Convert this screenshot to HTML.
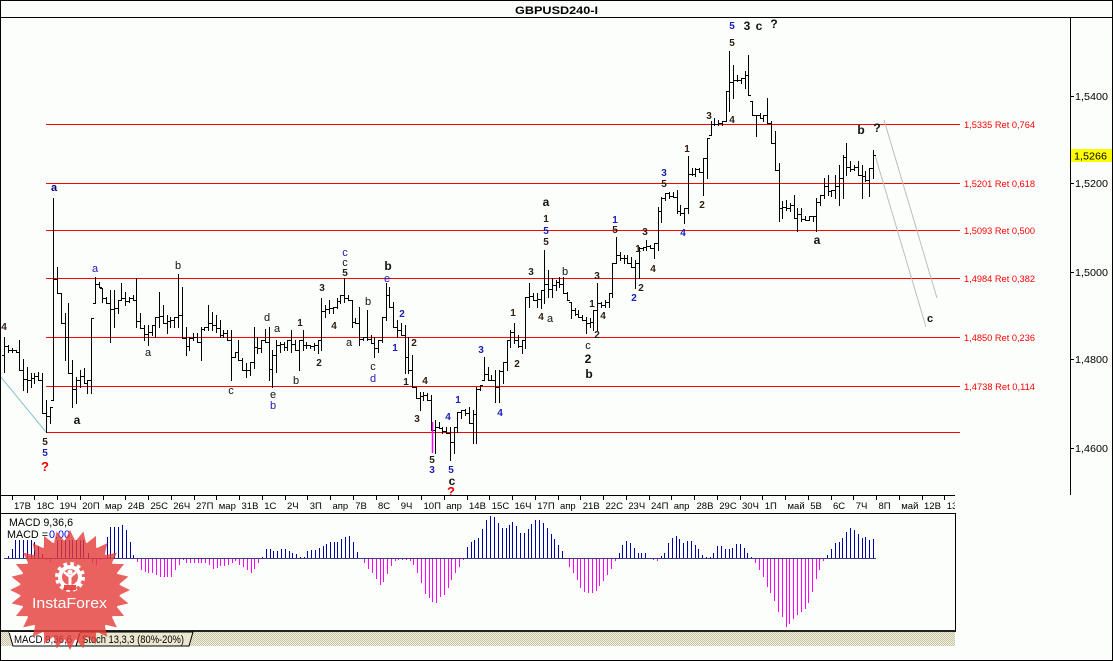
<!DOCTYPE html>
<html><head><meta charset="utf-8"><style>
html,body{margin:0;padding:0;background:#fcfefc;}
svg{display:block;}
text{font-family:"Liberation Sans",Arial,sans-serif;}
</style></head><body>
<svg id="s" width="1113" height="661" viewBox="0 0 1113 661" xmlns="http://www.w3.org/2000/svg">
<defs>
<pattern id="h" width="2" height="2" patternUnits="userSpaceOnUse">
<rect width="2" height="2" fill="#f2f0e2"/><rect width="1" height="1" fill="#c6c2a2"/><rect x="1" y="1" width="1" height="1" fill="#c6c2a2"/>
</pattern>
<clipPath id="cc"><rect x="1" y="18" width="1069" height="477"/></clipPath>
<clipPath id="ct"><rect x="0" y="495" width="955" height="18"/></clipPath>
</defs>
<rect width="1113" height="661" fill="#fcfefc"/>

<!-- title -->
<text x="515" y="14" font-size="11" font-weight="bold" textLength="83" lengthAdjust="spacingAndGlyphs" fill="#000">GBPUSD240-I</text>
<path d="M0 17.5H1113" stroke="#000" stroke-width="1"/>

<!-- fib lines -->
<g stroke="#ff0000" stroke-width="1" shape-rendering="crispEdges">
<path d="M46 124.5H960M46 183.5H960M46 230.5H960M46 278.5H960M46 337.5H960M46 386.5H960M46 432.5H960"/>
</g>
<g font-size="9.5" fill="#ff0000">
<text x="964" y="128" textLength="71" lengthAdjust="spacingAndGlyphs">1,5335 Ret 0,764</text>
<text x="964" y="187" textLength="71" lengthAdjust="spacingAndGlyphs">1,5201 Ret 0,618</text>
<text x="964" y="234" textLength="71" lengthAdjust="spacingAndGlyphs">1,5093 Ret 0,500</text>
<text x="964" y="282" textLength="71" lengthAdjust="spacingAndGlyphs">1,4984 Ret 0,382</text>
<text x="964" y="341" textLength="71" lengthAdjust="spacingAndGlyphs">1,4850 Ret 0,236</text>
<text x="964" y="390" textLength="71" lengthAdjust="spacingAndGlyphs">1,4738 Ret 0,114</text>
</g>

<!-- trend lines -->
<path d="M0 376L46 432" stroke="#88c4c8" stroke-width="1" fill="none"/>
<path d="M884 120L937 298M875 155L926 327" stroke="#bcbcbc" stroke-width="1" fill="none"/>

<!-- bars -->
<g clip-path="url(#cc)">
<path id="bars" d="" stroke="#000" stroke-width="1" fill="none" shape-rendering="crispEdges"/>
</g>
<path d="M432.5 422V453" stroke="#ff00ff" stroke-width="1.5"/>

<!-- wave labels -->
<g text-anchor="middle">
<g font-weight="bold" font-size="10" fill="#2b1d0e">
<text x="4" y="330">4</text>
<text x="45" y="445">5</text>
<text x="300" y="326">1</text>
<text x="319" y="366">2</text>
<text x="322" y="291">3</text>
<text x="334" y="329">4</text>
<text x="345" y="276">5</text>
<text x="414" y="346">2</text>
<text x="406" y="385">1</text>
<text x="417" y="422">3</text>
<text x="425" y="384">4</text>
<text x="432" y="463">5</text>
<text x="513" y="316">1</text>
<text x="517" y="367">2</text>
<text x="531" y="275">3</text>
<text x="541" y="320">4</text>
<text x="546" y="222">1</text>
<text x="546" y="245">5</text>
<text x="592" y="307">1</text>
<text x="597" y="279">3</text>
<text x="597" y="338">2</text>
<text x="603" y="319">4</text>
<text x="615" y="233">5</text>
<text x="641" y="291">2</text>
<text x="638" y="252">1</text>
<text x="645" y="235">3</text>
<text x="653" y="272">4</text>
<text x="664" y="187">5</text>
<text x="687" y="152">1</text>
<text x="702" y="208">2</text>
<text x="709" y="119">3</text>
<text x="732" y="123">4</text>
<text x="732" y="46">5</text>
</g>
<g font-weight="bold" font-size="10" fill="#1c1cb4">
<text x="45" y="456">5</text>
<text x="395" y="351">1</text>
<text x="402" y="317">2</text>
<text x="432" y="473">3</text>
<text x="448" y="420">4</text>
<text x="458" y="403">1</text>
<text x="451" y="473">5</text>
<text x="481" y="353">3</text>
<text x="500" y="416">4</text>
<text x="546" y="234">5</text>
<text x="615" y="223">1</text>
<text x="634" y="301">2</text>
<text x="664" y="176">3</text>
<text x="683" y="236">4</text>
<text x="732" y="29">5</text>
</g>
<g font-size="11" fill="#111">
<text x="148" y="356">a</text>
<text x="178" y="269">b</text>
<text x="231" y="394">c</text>
<text x="267" y="321">d</text>
<text x="277" y="332">a</text>
<text x="273" y="398">e</text>
<text x="296" y="384">b</text>
<text x="345" y="266">c</text>
<text x="349" y="346">a</text>
<text x="368" y="305">b</text>
<text x="373" y="370">c</text>
<text x="550" y="322">a</text>
<text x="565" y="275">b</text>
<text x="588" y="349">c</text>
</g>
<g font-size="11" fill="#1c1cb4">
<text x="95" y="272">a</text>
<text x="273" y="409">b</text>
<text x="345" y="256">c</text>
<text x="373" y="382">d</text>
<text x="387" y="282">e</text>
</g>
<g font-weight="bold" font-size="12" fill="#111">
<text x="77" y="424">a</text>
<text x="388" y="270">b</text>
<text x="452" y="485">c</text>
<text x="546" y="206">a</text>
<text x="588" y="363">2</text>
<text x="589" y="378">b</text>
<text x="747" y="30">3</text>
<text x="759" y="30">c</text>
<text x="774" y="28">?</text>
<text x="817" y="244">a</text>
<text x="861" y="134">b</text>
<text x="877" y="132">?</text>
<text x="930" y="322" font-size="11">c</text>
</g>
<text x="54" y="191" font-weight="bold" font-size="11" fill="#000080">a</text>
<g font-weight="bold" font-size="13" fill="#f00000">
<text x="45" y="471">?</text>
<text x="451" y="496">?</text>
</g>
</g>

<!-- price axis -->
<path d="M1070.5 17V495" stroke="#000" stroke-width="1"/>
<path d="M1070 96.5H1074M1070 183.5H1074M1070 272.5H1074M1070 359.5H1074M1070 448.5H1074" stroke="#000" stroke-width="1" shape-rendering="crispEdges"/>
<g font-size="10.5" fill="#000">
<text x="1075" y="100" textLength="33" lengthAdjust="spacingAndGlyphs">1,5400</text>
<text x="1075" y="187" textLength="33" lengthAdjust="spacingAndGlyphs">1,5200</text>
<text x="1075" y="276" textLength="33" lengthAdjust="spacingAndGlyphs">1,5000</text>
<text x="1075" y="363" textLength="33" lengthAdjust="spacingAndGlyphs">1,4800</text>
<text x="1075" y="452" textLength="33" lengthAdjust="spacingAndGlyphs">1,4600</text>
</g>
<rect x="1071" y="149" width="41" height="13" fill="#ffff00"/>
<text x="1074" y="159.5" font-size="10.5" textLength="33" lengthAdjust="spacingAndGlyphs" fill="#000">1,5266</text>

<!-- time axis -->
<path d="M0 495.5H955" stroke="#000" stroke-width="1"/>
<path d="M12.5 495V500M34.5 495V500M57.5 495V500M80.5 495V500M103.5 495V500M125.5 495V500M148.5 495V500M171.5 495V500M194.5 495V500M216.5 495V500M239.5 495V500M262.5 495V500M285.5 495V500M307.5 495V500M330.5 495V500M353.5 495V500M376.5 495V500M398.5 495V500M421.5 495V500M444.5 495V500M467.5 495V500M489.5 495V500M512.5 495V500M535.5 495V500M558.5 495V500M580.5 495V500M603.5 495V500M626.5 495V500M649.5 495V500M671.5 495V500M694.5 495V500M717.5 495V500M740.5 495V500M762.5 495V500M785.5 495V500M808.5 495V500M831.5 495V500M853.5 495V500M876.5 495V500M899.5 495V500M922.5 495V500M944.5 495V500" stroke="#000" stroke-width="1" shape-rendering="crispEdges"/>
<g font-size="9.5" fill="#000" clip-path="url(#ct)">
<text x="14" y="509">17В</text><text x="36.75" y="509">18С</text><text x="59.5" y="509">19Ч</text><text x="82.25" y="509">20П</text><text x="105" y="509">мар</text>
<text x="127.75" y="509">24В</text><text x="150.5" y="509">25С</text><text x="173.25" y="509">26Ч</text><text x="196" y="509">27П</text><text x="218.75" y="509">мар</text>
<text x="241.5" y="509">31В</text><text x="264.25" y="509">1С</text><text x="287" y="509">2Ч</text><text x="309.75" y="509">3П</text><text x="332.5" y="509">апр</text>
<text x="355.25" y="509">7В</text><text x="378" y="509">8С</text><text x="400.75" y="509">9Ч</text><text x="423.5" y="509">10П</text><text x="446.25" y="509">апр</text>
<text x="469" y="509">14В</text><text x="491.75" y="509">15С</text><text x="514.5" y="509">16Ч</text><text x="537.25" y="509">17П</text><text x="560" y="509">апр</text>
<text x="582.75" y="509">21В</text><text x="605.5" y="509">22С</text><text x="628.25" y="509">23Ч</text><text x="651" y="509">24П</text><text x="673.75" y="509">апр</text>
<text x="696.5" y="509">28В</text><text x="719.25" y="509">29С</text><text x="742" y="509">30Ч</text><text x="764.75" y="509">1П</text><text x="787.5" y="509">май</text>
<text x="810.25" y="509">5В</text><text x="833" y="509">6С</text><text x="855.75" y="509">7Ч</text><text x="878.5" y="509">8П</text><text x="901.25" y="509">май</text>
<text x="924" y="509">12В</text><text x="946.75" y="509">13</text>
</g>

<!-- MACD panel -->
<path d="M0 513.5H955.5V630" stroke="#000" stroke-width="1" fill="none"/>
<rect x="0" y="630" width="956" height="2" fill="#222"/>
<path d="M4 558.5H876" stroke="#3c3c84" stroke-width="1" shape-rendering="crispEdges"/>
<path stroke="#0000a0" stroke-width="1" fill="none" shape-rendering="crispEdges" d="M8.5 558V556M12.5 558V549M15.5 558V540M19.5 558V540M23.5 558V540M27.5 558V540M31.5 558V540M34.5 558V542M38.5 558V546M42.5 558V554M57.5 558V540M61.5 558V540M65.5 558V540M69.5 558V540M72.5 558V540M76.5 558V540M80.5 558V540M83.5 558V540M88.5 558V553M107.5 558V537M110.5 558V527M114.5 558V527M118.5 558V527M122.5 558V525M126.5 558V530M130.5 558V542M133.5 558V555M262.5 558V557M266.5 558V549M270.5 558V549M273.5 558V551M277.5 558V551M281.5 558V549M285.5 558V549M289.5 558V551M292.5 558V553M296.5 558V554M300.5 558V557M304.5 558V557M307.5 558V551M311.5 558V550M315.5 558V550M319.5 558V548M323.5 558V546M326.5 558V544M330.5 558V542M334.5 558V542M337.5 558V542M341.5 558V539M345.5 558V537M349.5 558V536M353.5 558V542M357.5 558V552M467.5 558V547M471.5 558V542M474.5 558V540M478.5 558V538M482.5 558V529M486.5 558V520M490.5 558V516M494.5 558V517M498.5 558V523M502.5 558V528M506.5 558V528M509.5 558V525M512.5 558V522M516.5 558V526M520.5 558V533M524.5 558V533M528.5 558V529M531.5 558V524M535.5 558V520M539.5 558V520M543.5 558V523M547.5 558V528M551.5 558V534M554.5 558V539M558.5 558V545M562.5 558V551M619.5 558V553M622.5 558V545M626.5 558V541M630.5 558V543M634.5 558V548M638.5 558V553M641.5 558V553M645.5 558V553M661.5 558V556M664.5 558V553M668.5 558V543M672.5 558V538M676.5 558V536M679.5 558V539M683.5 558V543M687.5 558V541M691.5 558V541M695.5 558V545M698.5 558V549M702.5 558V555M706.5 558V557M710.5 558V557M713.5 558V553M717.5 558V546M721.5 558V546M725.5 558V549M729.5 558V549M732.5 558V548M736.5 558V544M740.5 558V544M744.5 558V548M747.5 558V553M751.5 558V557M827.5 558V555M831.5 558V549M835.5 558V543M839.5 558V542M842.5 558V538M846.5 558V532M850.5 558V528M854.5 558V530M858.5 558V534M862.5 558V538M865.5 558V537M869.5 558V540M873.5 558V539"/>
<path stroke="#ff00ff" stroke-width="1" fill="none" shape-rendering="crispEdges" d="M46.5 559V560M50.5 559V562M92.5 559V563M96.5 559V565M100.5 559V560M137.5 559V562M141.5 559V570M145.5 559V572M148.5 559V573M152.5 559V573M156.5 559V575M160.5 559V577M164.5 559V577M167.5 559V577M171.5 559V577M175.5 559V570M179.5 559V565M183.5 559V560M186.5 559V563M190.5 559V563M194.5 559V563M198.5 559V563M201.5 559V563M205.5 559V563M209.5 559V565M213.5 559V569M217.5 559V568M220.5 559V566M224.5 559V566M228.5 559V565M232.5 559V563M235.5 559V561M239.5 559V565M243.5 559V567M247.5 559V570M251.5 559V573M254.5 559V569M258.5 559V563M364.5 559V563M368.5 559V569M372.5 559V573M376.5 559V579M380.5 559V585M383.5 559V582M387.5 559V574M391.5 559V566M395.5 559V561M398.5 559V560M402.5 559V560M406.5 559V560M410.5 559V561M413.5 559V565M417.5 559V573M421.5 559V583M425.5 559V594M429.5 559V598M432.5 559V602M436.5 559V603M440.5 559V597M444.5 559V595M448.5 559V588M451.5 559V580M455.5 559V573M459.5 559V567M463.5 559V560M569.5 559V567M573.5 559V573M577.5 559V580M580.5 559V588M584.5 559V592M588.5 559V593M592.5 559V593M596.5 559V591M599.5 559V586M603.5 559V581M607.5 559V575M611.5 559V569M615.5 559V561M653.5 559V560M657.5 559V561M755.5 559V563M759.5 559V570M763.5 559V577M767.5 559V587M770.5 559V593M774.5 559V601M778.5 559V612M782.5 559V617M786.5 559V627M789.5 559V624M793.5 559V619M797.5 559V615M801.5 559V612M805.5 559V609M808.5 559V603M812.5 559V592M816.5 559V579M819.5 559V570M823.5 559V561"/>
<text x="9" y="526" font-size="11" fill="#000" textLength="64" lengthAdjust="spacingAndGlyphs">MACD 9,36,6</text>
<text x="7" y="538" font-size="11" fill="#000" textLength="41" lengthAdjust="spacingAndGlyphs">MACD =</text>
<text x="49" y="538" font-size="11" fill="#0000ff" textLength="21" lengthAdjust="spacingAndGlyphs">0,00</text>

<!-- tab bar -->
<rect x="1" y="632" width="954" height="14" fill="url(#h)"/>
<polygon points="80,632 193,632 189,646 76,646" fill="#ebe8cf" stroke="#000" stroke-width="1"/>
<polygon points="9,632 80,632 76,646 13,646" fill="#ffffff" stroke="#000" stroke-width="1"/>
<path d="M9 632.5H80" stroke="#fff" stroke-width="1"/>
<text x="14" y="643" font-size="11" fill="#000" textLength="58" lengthAdjust="spacingAndGlyphs">MACD 9,36,6</text>
<text x="82" y="643" font-size="11" fill="#000" textLength="102" lengthAdjust="spacingAndGlyphs">Stoch 13,3,3 (80%-20%)</text>

<!-- logo -->
<g opacity="0.8">
<circle cx="70" cy="590" r="50" fill="#e63c38"/>
<polygon id="star" points="" fill="#e63c38"/>
</g>
<g fill="#fff" stroke="#fff">
<circle cx="70" cy="577" r="10" fill="none" stroke-width="4"/>
<circle cx="70" cy="577" r="13" fill="none" stroke-width="4" stroke-dasharray="3.5 3.3"/>
<circle cx="70" cy="572" r="2.5" stroke="none"/>
<path d="M64 572L70 577L76 572" fill="none" stroke-width="2.5"/>
<rect x="68.5" y="576" width="3" height="10" stroke="none"/>
</g>
<rect x="64" y="585" width="12" height="5" fill="#e63c38" opacity="0.9"/>
<text x="32" y="608" font-size="15" fill="#ffffff" textLength="75" lengthAdjust="spacingAndGlyphs">InstaForex</text>

<!-- border -->
<rect x="0.5" y="0.5" width="1112" height="660" fill="none" stroke="#000" stroke-width="1"/>
</svg>
<script>
(function(){
var A=[[3,337,372],[6,342,350],[9,345,352],[13,348,352],[16,350,352],[19,340,370],[22,359,373],[25,367,390],[27,372,392],[30,373,387],[33,373,383],[36,373,380],[39,372,380],[42,373,413],[44,400,420],[47,415,432],[49,407,423],[52,388,400],[53,198,400],[57,267,293],[60,293,300],[62,310,323],[65,313,360],[68,303,373],[71,360,380],[74,385,407],[77,377,403],[79,370,387],[82,368,380],[85,373,383],[88,380,393],[91,380,393],[92,318,332],[95,277,303],[98,282,287],[102,288,302],[104,293,298],[107,297,303],[110,290,342],[113,320,327],[115,290,317],[117,300,313],[120,283,300],[123,283,297],[125,292,305],[129,297,302],[132,295,300],[135,293,298],[137,278,327],[140,313,328],[143,325,335],[145,328,340],[148,325,345],[152,325,335],[154,327,333],[157,317,337],[159,292,327],[162,305,323],[165,315,333],[168,320,327],[170,317,327],[173,320,327],[175,317,327],[177,320,327],[179,274,327],[182,287,293],[183,290,338],[185,327,338],[187,328,355],[190,337,350],[193,333,340],[197,333,342],[199,333,342],[202,327,360],[204,327,330],[207,305,330],[209,308,327],[212,312,330],[215,315,332],[218,320,325],[220,325,337],[223,330,337],[226,330,340],[229,330,370],[232,348,380],[234,352,357],[237,340,360],[239,352,357],
[243,358,370],[247,363,377],[249,362,375],[253,363,368],[255,327,350],[258,337,353],[262,340,352],[265,329,342],[267,327,338],[269,347,380],[272,350,387],[275,362,372],[278,340,353],[282,345,350],[285,342,350],[288,340,350],[292,330,352],[295,340,350],[297,340,370],[299,347,360],[302,330,350],[305,342,348],[308,343,348],[312,345,348],[316,340,352],[318,347,353],[320,298,350],[323,303,315],[327,305,317],[330,300,313],[333,307,313],[337,298,308],[340,295,303],[343,290,298],[346,278,302],[348,295,300],[350,300,327],[353,320,325],[356,318,323],[358,307,327],[361,307,345],[363,337,340],[365,310,340],[367,310,337],[369,335,343],[373,337,357],[375,343,357],[377,347,352],[380,340,347],[383,317,342],[384,315,320],[387,283,315],[390,287,307],[393,302,312],[395,310,327],[397,320,337],[400,323,335],[403,325,337],[406,325,373],[408,337,373],[411,355,373],[413,363,387],[416,387,398],[418,392,410],[422,393,400],[425,392,398],[428,393,400],[430,395,430],[433,420,453],[435,423,440],[437,422,427],[440,423,428],[443,427,433],[445,427,433],[448,428,432],[450,427,460],[453,437,453],[455,427,453],[457,412,432],[460,410,418],[463,412,418],[467,407,413],
[469,412,423],[473,410,443],[475,433,443],[478,387,390],[480,385,390],[483,357,380],[485,367,370],[488,367,380],[492,375,380],[494,370,383],[497,378,402],[500,370,402],[503,362,383],[506,360,370],[508,340,357],[511,330,347],[513,323,343],[515,335,342],[517,335,347],[520,340,353],[522,340,350],[524,303,348],[526,297,317],[528,298,307],[531,283,303],[533,293,300],[536,293,303],[538,293,307],[540,290,308],[543,263,303],[545,250,287],[547,270,280],[550,280,297],[553,278,287],[555,280,290],[557,282,290],[560,277,287],[563,280,293],[565,277,293],[567,292,300],[570,302,318],[573,308,315],[575,310,315],[577,310,317],[580,313,317],[583,315,320],[585,318,323],[587,317,333],[590,318,327],[593,310,330],[595,310,327],[597,283,330],[599,293,307],[602,302,307],[604,300,307],[607,297,307],[609,293,302],[612,265,297],[614,263,270],[616,237,263],[618,252,260],[621,253,260],[623,255,263],[626,257,260],[628,255,263],[630,257,265],[633,257,267],[635,260,288],[637,265,272],[640,247,278],[643,247,250],[645,240,248],[648,245,250],[650,245,248],[653,243,258],[656,207,250],[658,207,225],[661,197,222],[663,198,203],[666,193,200],[669,192,198],[673,192,197],[676,190,198],[678,207,213],[681,205,215],[683,208,223],[687,156,213],[689,162,173],[692,168,175],[695,168,173],
[697,168,176],[699,168,172],[702,158,195],[706,145,178],[708,138,148],[711,121,135],[713,118,125],[717,120,125],[720,121,125],[723,121,125],[726,91,121],[729,95,108],[731,51,111],[734,65,98],[737,75,81],[740,78,83],[743,71,88],[747,55,95],[750,68,95],[753,101,115],[756,115,136],[759,113,118],[762,115,121],[765,116,121],[768,98,123],[771,121,143],[774,131,170],[777,163,171],[779,168,221],[781,208,218],[783,201,211],[786,200,210],[789,203,211],[793,195,211],[795,203,218],[797,208,231],[800,208,221],[803,216,220],[806,216,220],[809,216,220],[813,216,221],[816,215,231],[818,198,218],[821,195,205],[823,178,198],[826,175,193],[829,191,195],[832,190,196],[835,175,198],[838,165,205],[842,155,198],[845,143,170],[848,155,175],[852,161,171],[855,165,170],[858,161,175],[862,165,198],[865,171,181],[868,168,196],[871,175,178],[874,150,178]];
A.sort(function(a,b){return a[0]-b[0];});
var bars=[];
for(var i=-1;i<=229;i++){
 var x=8+3.777*i, hi=1e9, lo=-1e9, f=false, j;
 for(j=0;j<A.length;j++){var a=A[j]; if(Math.abs(a[0]-x)<1.9){f=true; if(a[1]<hi)hi=a[1]; if(a[2]>lo)lo=a[2];}}
 if(!f){var p=null,n=null; for(j=0;j<A.length;j++){if(A[j][0]<=x)p=A[j]; else {n=A[j];break;}} if(!p)p=n; if(!n)n=p; var t=(n[0]==p[0])?0:(x-p[0])/(n[0]-p[0]); hi=p[1]+(n[1]-p[1])*t; lo=p[2]+(n[2]-p[2])*t;}
 hi=Math.round(hi); lo=Math.round(lo); if(lo-hi<2)lo=hi+2;
 bars.push([Math.round(x),hi,lo]);
}
var seed=11; function rnd(){seed=(seed*16807)%2147483647; return seed/2147483647;}
var d='', prev=null;
for(var k=0;k<bars.length;k++){
 var b=bars[k], bx=b[0]+0.5, h=b[1], l=b[2], nb=bars[k+1], c;
 if(nb){ c=(nb[1]+nb[2])/2+(rnd()-0.5)*5; } else c=155;
 c=Math.round(Math.min(Math.max(c,h),l));
 var o=prev==null?Math.round((h+l)/2):Math.round(Math.min(Math.max(prev,h),l));
 d+='M'+bx+' '+h+'V'+(l+1)+'M'+(bx-2.5)+' '+(o+0.5)+'H'+bx+'M'+bx+' '+(c+0.5)+'H'+(bx+2.5);
 prev=c;
}
document.getElementById('bars').setAttribute('d',d);
var pts=[];
for(var q=0;q<56;q++){var ang=q*Math.PI/28, r=(q%2)?49:60; pts.push((70+r*Math.cos(ang)).toFixed(1)+','+(590+r*Math.sin(ang)).toFixed(1));}
document.getElementById('star').setAttribute('points',pts.join(' '));
})();
</script>
</body></html>
